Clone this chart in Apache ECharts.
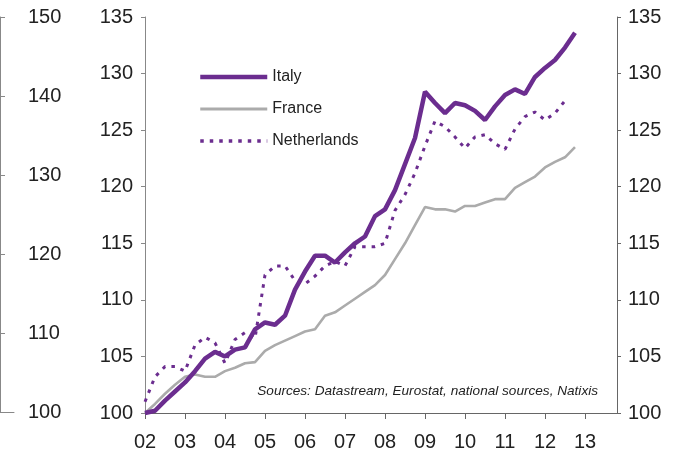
<!DOCTYPE html>
<html>
<head>
<meta charset="utf-8">
<script src="https://cdn.jsdelivr.net/npm/echarts@6/dist/echarts.min.js"></script>
<style>
    html, body { margin: 0; padding: 0; background: #fff; }
    #chart { width: 675px; height: 464px; }
</style>
</head>
<body>
<div id="chart"></div>
<script>
    // quarterly index, 2002Q1 = first point
    const firstYear = 2002;
    const yearLabels = ['02', '03', '04', '05', '06', '07', '08', '09', '10', '11', '12', '13'];

    const italy = [
        100.0, 100.2, 101.1, 101.9, 102.7, 103.7, 104.8, 105.4,
        105.0, 105.6, 105.8, 107.4, 108.0, 107.8, 108.6, 110.9,
        112.5, 113.9, 113.9, 113.3, 114.2, 115.0, 115.6, 117.4,
        118.0, 119.7, 122.0, 124.3, 128.4, 127.4, 126.5, 127.4,
        127.2, 126.7, 125.9, 127.1, 128.1, 128.6, 128.2, 129.7,
        130.5, 131.2, 132.3, 133.6
    ];
    const france = [
        100.0, 100.8, 101.7, 102.5, 103.2, 103.4, 103.2, 103.2,
        103.7, 104.0, 104.4, 104.5, 105.5, 106.0, 106.4, 106.8,
        107.2, 107.4, 108.6, 108.9, 109.5, 110.1, 110.7, 111.3,
        112.2, 113.6, 115.0, 116.6, 118.2, 118.0, 118.0, 117.8,
        118.3, 118.3, 118.6, 118.9, 118.9, 119.9, 120.4, 120.9,
        121.7, 122.2, 122.6, 123.5
    ];
    const netherlands = [
        101.0, 103.2, 104.1, 104.1, 103.7, 106.0, 106.7, 106.2,
        104.4, 106.5, 107.1, 106.6, 112.2, 113.0, 113.0, 111.7,
        111.4, 112.1, 113.0, 113.4, 113.0, 114.7, 114.7, 114.7,
        115.0, 117.9, 119.3, 121.2, 123.6, 125.8, 125.3, 124.4,
        123.4, 124.4, 124.6, 123.8, 123.3, 125.1, 126.2, 126.6,
        125.9, 126.5, 127.6
    ];

    const sourceText = 'Sources: Datastream, Eurostat, national sources, Natixis';

    function toPoints (values) {
        return values.map(function (v, i) {
            return [firstYear + i / 4, v];
        });
    }

    const tickFont = 'Liberation Sans';
    const tickSize = 20;
    const purple = '#6b2d8f';
    const grey = '#ababab';

    const option = {
        animation: false,
        backgroundColor: '#fff',
        grid: [
            {left: 0, width: 14, top: 17, bottom: 52},
            {left: 145, right: 58, top: 17, bottom: 51}
        ],
        legend: {
            data: [
                {name: 'Italy', lineStyle: {width: 4.5}},
                {name: 'France', lineStyle: {width: 3}},
                {name: 'Netherlands', lineStyle: {width: 3.5}}
            ],
            orient: 'vertical',
            left: 198,
            top: 69,
            padding: 0,
            itemWidth: 67,
            itemHeight: 14,
            itemGap: 16,
            itemStyle: {opacity: 0},
            textStyle: {fontFamily: 'Liberation Sans', fontSize: 16, color: '#222'}
        },
        graphic: [{
            type: 'text',
            right: 77,
            top: 384,
            style: {
                text: sourceText,
                font: 'italic 13.6px "Liberation Sans"',
                fill: '#222'
            }
        }],
        xAxis: [
            {
                gridIndex: 0, type: 'value', min: 0, max: 1,
                axisLine: {show: true, lineStyle: {color: '#888', width: 1}},
                axisTick: {show: false}, axisLabel: {show: false}, splitLine: {show: false}
            },
            {
                gridIndex: 1, type: 'value', min: 2002, max: 2013.8, interval: 1,
                axisLine: {lineStyle: {color: '#666', width: 1}},
                axisTick: {length: 6, lineStyle: {color: '#666'}},
                splitLine: {show: false},
                axisLabel: {
                    showMaxLabel: false,
                    margin: 19,
                    fontFamily: tickFont, fontSize: tickSize, color: '#222',
                    formatter: function (v) {
                        const idx = Math.round(v) - firstYear;
                        return Math.abs(v - Math.round(v)) < 1e-6 ? (yearLabels[idx] || '') : '';
                    }
                }
            }
        ],
        yAxis: [
            {
                gridIndex: 0, type: 'value', position: 'right', min: 100, max: 150, interval: 10,
                axisLine: {show: true, lineStyle: {color: '#888'}},
                axisTick: {show: true, length: 5, lineStyle: {color: '#888'}},
                splitLine: {show: false},
                axisLabel: {margin: 14, fontFamily: tickFont, fontSize: tickSize, color: '#222'}
            },
            {
                gridIndex: 1, type: 'value', position: 'left', min: 100, max: 135, interval: 5,
                axisLine: {show: true, lineStyle: {color: '#888'}},
                axisTick: {show: true, length: 4, lineStyle: {color: '#888'}},
                splitLine: {show: false},
                axisLabel: {margin: 12, fontFamily: tickFont, fontSize: tickSize, color: '#222'}
            },
            {
                gridIndex: 1, type: 'value', position: 'right', min: 100, max: 135, interval: 5,
                axisLine: {show: true, lineStyle: {color: '#666'}},
                axisTick: {show: true, length: 4, lineStyle: {color: '#666'}},
                splitLine: {show: false},
                axisLabel: {margin: 11, fontFamily: tickFont, fontSize: tickSize, color: '#222'}
            }
        ],
        series: [
            {
                name: 'France', type: 'line', xAxisIndex: 1, yAxisIndex: 1,
                symbol: 'none', color: grey,
                lineStyle: {color: grey, width: 2.6},
                data: toPoints(france)
            },
            {
                name: 'Netherlands', type: 'line', xAxisIndex: 1, yAxisIndex: 1,
                symbol: 'none', color: purple,
                lineStyle: {color: purple, width: 3, type: [3.5, 6]},
                data: toPoints(netherlands)
            },
            {
                name: 'Italy', type: 'line', xAxisIndex: 1, yAxisIndex: 1,
                symbol: 'none', color: purple,
                lineStyle: {color: purple, width: 4.5},
                data: toPoints(italy)
            }
        ]
    };

    const chart = echarts.init(document.getElementById('chart'));
    chart.setOption(option);
</script>
</body>
</html>
